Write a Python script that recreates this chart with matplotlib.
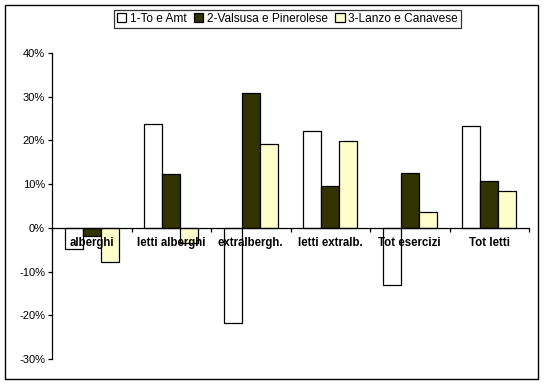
import numpy as np
import matplotlib
matplotlib.use('Agg')
import matplotlib.pyplot as plt
from matplotlib.patches import Rectangle

categorie = ['alberghi', 'letti alberghi', 'extralbergh.', 'letti extralb.', 'Tot esercizi', 'Tot letti']
serie = ['1-To e Amt', '2-Valsusa e Pinerolese', '3-Lanzo e Canavese']
to_amt = [-4.9, 23.7, -21.7, 22.1, -13.1, 23.3]
valsusa = [-1.8, 12.3, 30.9, 9.5, 12.5, 10.8]
lanzo = [-7.8, -3.5, 19.2, 19.8, 3.6, 8.4]
colori = ['#FFFFFF', '#333300', '#FFFFCC']

plt.rcParams['font.family'] = ['Liberation Sans', 'DejaVu Sans']

fig = plt.figure(figsize=(5.45, 3.85), dpi=100)
ax = fig.add_axes([52 / 545, 1 - 359 / 385, 477 / 545, 306 / 385])

x = np.arange(len(categorie))
w = 0.227
for i, (vals, col, nome) in enumerate(zip([to_amt, valsusa, lanzo], colori, serie)):
    ax.bar(x + (i - 1) * w, np.array(vals) / 100, w, color=col, edgecolor='black',
           linewidth=0.9, label=nome, zorder=2)

ax.set_xlim(-0.5, len(categorie) - 0.5)
ax.set_ylim(-0.3, 0.4)
yt = np.arange(-0.3, 0.41, 0.1)
ax.set_yticks(yt)
ax.set_yticklabels([f'{int(round(v * 100))}%' for v in yt], fontsize=8)
ax.tick_params(axis='y', direction='out', length=3, width=0.9, pad=2)

ax.spines['bottom'].set_position(('data', 0))
ax.spines['top'].set_visible(False)
ax.spines['right'].set_visible(False)
ax.spines['bottom'].set_linewidth(0.9)
ax.spines['left'].set_linewidth(0.9)
ax.spines['bottom'].set_zorder(3)

ax.set_xticks(np.arange(-0.5, len(categorie), 1.0))
ax.set_xticklabels([])
ax.tick_params(axis='x', which='major', direction='out', length=3, width=0.9)

# etichette categorie sopra le barre, come in Excel
for xi, nome in zip(x, categorie):
    ax.text(xi, -0.035, nome, ha='center', va='center', fontsize=8.3,
            fontweight='bold', zorder=5)

fig.patches.append(Rectangle((5 / 545, 1 - 379 / 385), 533 / 545, 374 / 385,
                             transform=fig.transFigure, fill=False,
                             edgecolor='black', linewidth=1))

leg = fig.legend(loc='center', bbox_to_anchor=(287.5 / 545, 1 - 19 / 385), ncol=3,
                 fontsize=8.6, frameon=True, fancybox=False, edgecolor='black',
                 handlelength=0.8, handleheight=0.8, handletextpad=0.3,
                 columnspacing=0.6, borderpad=0.25, borderaxespad=0)
leg.get_frame().set_linewidth(0.9)

fig.savefig('out.png', dpi=100)
